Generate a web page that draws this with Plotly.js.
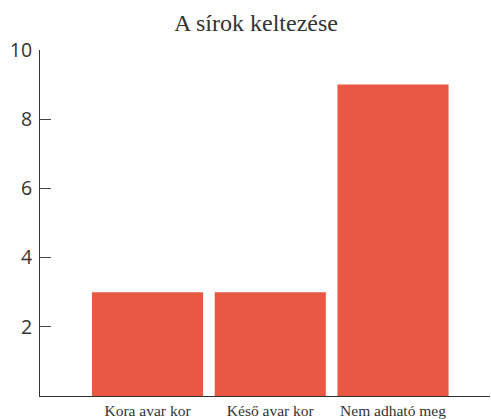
<!DOCTYPE html>
<html>
<head>
<meta charset="utf-8">
<script src="https://cdn.plot.ly/plotly-3.0.1.min.js"></script>
<style>html,body{margin:0;padding:0;background:#fff;}#chart{width:491px;height:419px;}</style>
</head>
<body>
<div id="chart"></div>
<script>
var categories = ["Kora avar kor", "Késő avar kor", "Nem adható meg"];
var counts = [3, 3, 9];
var yTicks = [0, 2, 4, 6, 8, 10];
var yTickLabels = ["", "2", "4", "6", "8", "10"];

var data = [{
  type: "bar",
  x: categories,
  y: counts,
  marker: {color: "#E85842"},
  hoverinfo: "x+y"
}];

var layout = {
  width: 491,
  height: 419,
  margin: {l: 40, r: 1, t: 50, b: 22.5},
  paper_bgcolor: "#fff",
  plot_bgcolor: "#fff",
  bargap: 0.095,
  showlegend: false,
  title: {
    text: "A sírok keltezése",
    font: {family: "Liberation Serif, serif", size: 24, color: "#333"},
    x: 0.48, xref: "paper", xanchor: "center",
    y: 1, yref: "container", yanchor: "top", pad: {t: 14}
  },
  xaxis: {
    range: [-0.876, 2.79],
    showline: true, linecolor: "#333", linewidth: 1,
    ticks: "", showgrid: false, zeroline: false,
    tickfont: {family: "Liberation Serif, serif", size: 15.5, color: "#333"},
    fixedrange: true
  },
  yaxis: {
    range: [0, 10],
    tickvals: yTicks, ticktext: yTickLabels,
    showline: true, linecolor: "#333", linewidth: 1,
    ticks: "inside", ticklen: 11, tickcolor: "#444", tickwidth: 1,
    ticklabelstandoff: 3,
    showgrid: false, zeroline: false,
    tickfont: {family: "Open Sans, sans-serif", size: 19.5, color: "#333"},
    fixedrange: true
  }
};

Plotly.newPlot("chart", data, layout, {displayModeBar: false, staticPlot: true});
</script>
</body>
</html>
